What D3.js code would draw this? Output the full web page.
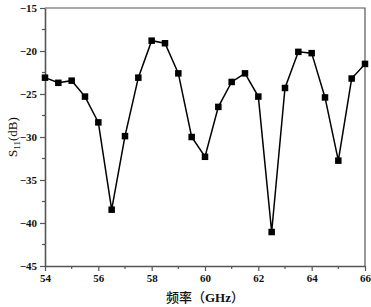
<!DOCTYPE html>
<html lang="zh">
<head>
  <meta charset="UTF-8">
  <title>S11</title>
  <script src="https://d3js.org/d3.v7.min.js"></script>
  <style>
    body { margin: 0; background: #fff; }
  </style>
</head>
<body>
<svg></svg>
<script>
  // 画布大小与边距
  const width = 371, height = 307
  const margin = {top: 8, right: 6, bottom: 41, left: 45}

  // 数据：频率 (GHz) 与 S11 (dB)
  const freq = [54, 54.5, 55, 55.5, 56, 56.5, 57, 57.5, 58, 58.5, 59, 59.5, 60,
                60.5, 61, 61.5, 62, 62.5, 63, 63.5, 64, 64.5, 65, 65.5, 66]
  const s11 = [-23.1, -23.7, -23.45, -25.3, -28.3, -38.45, -29.9, -23.1, -18.8, -19.1, -22.6, -30.0, -32.3,
               -26.5, -23.6, -22.6, -25.3, -41.05, -24.3, -20.1, -20.25, -25.4, -32.75, -23.2, -21.5]
  const xTicks = [54, 56, 58, 60, 62, 64, 66]
  const yTicks = [-45, -40, -35, -30, -25, -20, -15]

  const data = freq.map((f, i) => ({f, v: s11[i]}))

  const x = d3.scaleLinear().domain([54, 66]).range([margin.left, width - margin.right])
  const y = d3.scaleLinear().domain([-45, -15]).range([height - margin.bottom, margin.top])

  const svg = d3.select('svg')
      .attr('width', width)
      .attr('height', height)
      .attr('font-family', '"Liberation Serif", "Times New Roman", serif')

  // 顶部和右侧边框
  svg.append('path')
      .attr('d', `M${x(54)},${y(-15)}H${x(66)}V${y(-45)}`)
      .attr('fill', 'none')
      .attr('stroke', '#555')
      .attr('stroke-width', 1.2)

  // 次刻度
  const xMinor = d3.range(55, 66, 2)
  const yMinor = d3.range(-42.5, -15, 5)

  const xAxis = svg.append('g')
      .attr('transform', `translate(0,${y(-45)})`)
      .call(d3.axisBottom(x).tickValues(xTicks).tickSize(5).tickSizeOuter(0).tickPadding(3))
  xAxis.append('g').selectAll('line').data(xMinor).join('line')
      .attr('x1', d => x(d)).attr('x2', d => x(d))
      .attr('y1', 0).attr('y2', 3)
      .attr('stroke', '#555').attr('stroke-width', 1.2)

  const yAxis = svg.append('g')
      .attr('transform', `translate(${x(54)},0)`)
      .call(d3.axisLeft(y).tickValues(yTicks).tickSize(5).tickSizeOuter(0).tickPadding(3))
  yAxis.append('g').selectAll('line').data(yMinor).join('line')
      .attr('y1', d => y(d)).attr('y2', d => y(d))
      .attr('x1', 0).attr('x2', -3)
      .attr('stroke', '#555').attr('stroke-width', 1.2)

  svg.selectAll('.domain').attr('stroke', '#555').attr('stroke-width', 1.6)
  svg.selectAll('.tick line').attr('stroke', '#555').attr('stroke-width', 1.2)
  svg.selectAll('.tick text')
      .attr('font-family', '"Liberation Serif", serif')
      .attr('font-weight', 'bold')
      .attr('font-size', '11px')
      .attr('fill', '#111')

  // 折线
  svg.append('path')
      .datum(data)
      .attr('fill', 'none')
      .attr('stroke', '#000')
      .attr('stroke-width', 1.5)
      .attr('d', d3.line().x(d => x(d.f)).y(d => y(d.v)))

  // 方形标记
  const s = 6.5
  svg.append('g').selectAll('rect').data(data).join('rect')
      .attr('x', d => x(d.f) - s / 2)
      .attr('y', d => y(d.v) - s / 2)
      .attr('width', s)
      .attr('height', s)
      .attr('fill', '#000')

  // X 轴标题
  const xl = svg.append('text')
      .attr('x', 205)
      .attr('y', 302)
      .attr('text-anchor', 'middle')
      .attr('font-size', '13px')
      .attr('fill', '#111')
  xl.append('tspan').attr('font-family', '"Noto Sans CJK SC"').attr('font-weight', 500).text('频率（')
  xl.append('tspan').attr('font-family', '"Liberation Serif", serif').attr('font-weight', 'bold').text('GHz')
  xl.append('tspan').attr('font-family', '"Noto Sans CJK SC"').attr('font-weight', 500).text('）')

  // Y 轴标题
  const yl = svg.append('text')
      .attr('transform', `translate(17,${y(-30)}) rotate(-90)`)
      .attr('text-anchor', 'middle')
      .attr('font-family', '"Liberation Serif", serif')
      .attr('font-size', '13px')
      .attr('fill', '#111')
  yl.append('tspan').text('S')
  yl.append('tspan').attr('font-size', '9px').attr('dy', 3).text('11')
  yl.append('tspan').attr('dy', -3).text('(dB)')
</script>
</body>
</html>
